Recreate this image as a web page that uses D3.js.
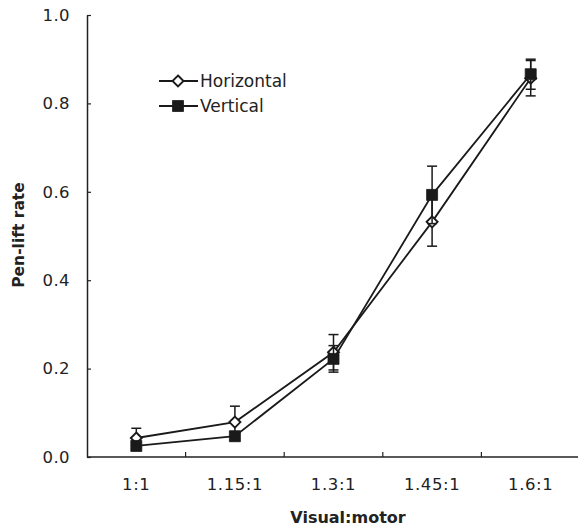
<!DOCTYPE html>
<html>
<head>
<meta charset="utf-8">
<script src="https://cdn.jsdelivr.net/npm/d3@7"></script>
<style>
  body { margin: 0; background: #fff; }
  text { font-family: "DejaVu Sans", Verdana, sans-serif; fill: #222; }
</style>
</head>
<body>
<div id="chart"></div>
<script>
// values
var ratios = ["1:1", "1.15:1", "1.3:1", "1.45:1", "1.6:1"];
var horizontal = [0.043, 0.079, 0.237, 0.532, 0.857];
var horizontalErr = [0.022, 0.036, 0.040, 0.055, 0.040];
var vertical = [0.025, 0.047, 0.222, 0.593, 0.866];
var verticalErr = [0.010, 0.010, 0.030, 0.065, 0.034];
var yTicks = [0, 0.2, 0.4, 0.6, 0.8, 1.0];

var svgWidth = 578, svgHeight = 529;
var margin = { top: 15, right: -2, bottom: 72, left: 87 };
var width = svgWidth - margin.left - margin.right;
var height = svgHeight - margin.top - margin.bottom;

var svg = d3.select("#chart").append("svg")
  .attr("width", svgWidth)
  .attr("height", svgHeight);

var chartGroup = svg.append("g")
  .attr("transform", `translate(${margin.left}, ${margin.top})`);

var x = d3.scaleBand().domain(ratios).range([0, width]);
var y = d3.scaleLinear().domain([0, 1]).range([height, 0]);

// y axis, ticks pointing inward
var yAxis = chartGroup.append("g")
  .call(d3.axisRight(y).tickValues(yTicks).tickFormat(d3.format(".1f")).tickSize(4).tickSizeOuter(0));
yAxis.select(".domain").attr("stroke", "#222").attr("stroke-width", 1.5);
yAxis.selectAll(".tick line").attr("stroke", "#222").attr("stroke-width", 1.2);
yAxis.selectAll(".tick text")
  .attr("x", -17).attr("text-anchor", "end")
  .style("font-size", "16.5px").style("letter-spacing", "0.4px");

// x axis: labels centred in bands, ticks at inner band edges pointing up
var xAxis = chartGroup.append("g")
  .attr("transform", `translate(0, ${height})`);
xAxis.append("line")
  .attr("x1", 0).attr("x2", width)
  .attr("stroke", "#222").attr("stroke-width", 1.5);
xAxis.selectAll(".xtick")
  .data(ratios.slice(1))
  .enter().append("line")
  .attr("x1", d => x(d)).attr("x2", d => x(d))
  .attr("y1", 0).attr("y2", -5)
  .attr("stroke", "#222").attr("stroke-width", 1.2);
xAxis.selectAll(".xlabel")
  .data(ratios)
  .enter().append("text")
  .attr("x", d => x(d) + x.bandwidth() / 2)
  .attr("y", 33)
  .attr("text-anchor", "middle")
  .style("font-size", "16.5px").style("letter-spacing", "0.6px")
  .text(d => d);

// axis titles
svg.append("text")
  .attr("x", 348).attr("y", 523)
  .attr("text-anchor", "middle")
  .style("font-size", "16px").style("font-weight", "bold")
  .text("Visual:motor");

svg.append("text")
  .attr("transform", "rotate(-90)")
  .attr("x", -235).attr("y", 24)
  .attr("text-anchor", "middle")
  .style("font-size", "15.5px").style("font-weight", "bold")
  .text("Pen-lift rate");

var cx = d => x(d) + x.bandwidth() / 2;

function drawSeries(values, errs, marker) {
  var pts = ratios.map((r, i) => ({ r: r, v: values[i], e: errs[i] }));

  chartGroup.append("path")
    .datum(pts)
    .attr("fill", "none")
    .attr("stroke", "#1a1a1a")
    .attr("stroke-width", 1.8)
    .attr("d", d3.line().x(d => cx(d.r)).y(d => y(d.v)));

  var err = chartGroup.append("g").selectAll("g")
    .data(pts).enter().append("g")
    .attr("stroke", "#1a1a1a").attr("stroke-width", 1.5);
  err.append("line")
    .attr("x1", d => cx(d.r)).attr("x2", d => cx(d.r))
    .attr("y1", d => y(d.v - d.e)).attr("y2", d => y(d.v + d.e));
  err.append("line")
    .attr("x1", d => cx(d.r) - 5).attr("x2", d => cx(d.r) + 5)
    .attr("y1", d => y(d.v + d.e)).attr("y2", d => y(d.v + d.e));
  err.append("line")
    .attr("x1", d => cx(d.r) - 5).attr("x2", d => cx(d.r) + 5)
    .attr("y1", d => y(d.v - d.e)).attr("y2", d => y(d.v - d.e));

  chartGroup.append("g").selectAll("path")
    .data(pts).enter().append("path")
    .attr("transform", d => `translate(${cx(d.r)}, ${y(d.v)})`)
    .call(marker);
}

function diamond(sel) {
  sel.attr("d", "M0,-5.5L5.5,0L0,5.5L-5.5,0Z")
    .attr("fill", "#fff").attr("stroke", "#1a1a1a").attr("stroke-width", 1.9);
}
function square(sel) {
  sel.attr("d", "M-5.5,-5.5H5.5V5.5H-5.5Z")
    .attr("fill", "#1a1a1a").attr("stroke", "#1a1a1a").attr("stroke-width", 0.8);
}

drawSeries(horizontal, horizontalErr, diamond);
drawSeries(vertical, verticalErr, square);

// legend
var legend = svg.append("g");
var legendItems = [
  { name: "Horizontal", y: 81, marker: diamond },
  { name: "Vertical", y: 106, marker: square }
];
legendItems.forEach(function(item) {
  legend.append("line")
    .attr("x1", 159).attr("x2", 198)
    .attr("y1", item.y).attr("y2", item.y)
    .attr("stroke", "#1a1a1a").attr("stroke-width", 1.8);
  legend.append("path")
    .attr("transform", `translate(178, ${item.y})`)
    .call(item.marker);
  legend.append("text")
    .attr("x", 200).attr("y", item.y + 6)
    .style("font-size", "17px")
    .text(item.name);
});
</script>
</body>
</html>
